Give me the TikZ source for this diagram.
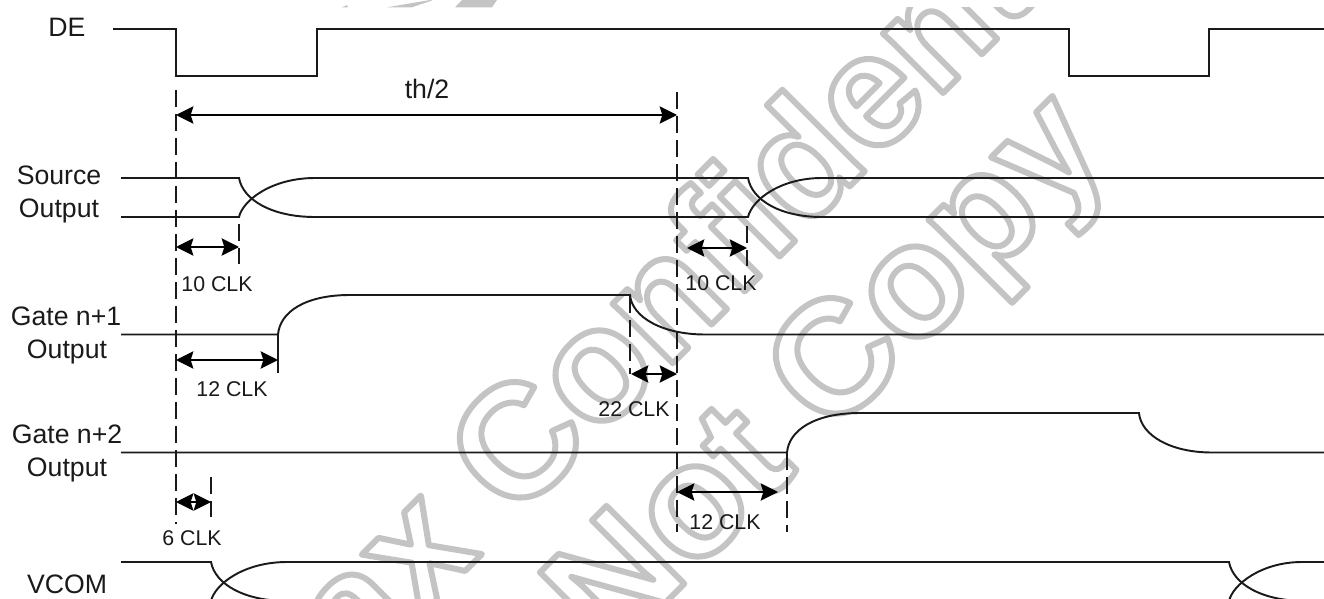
\documentclass[tikz,border=0pt]{standalone}
\usepackage{fontspec}
\setmainfont{Liberation Sans}
\usetikzlibrary{arrows.meta}
\definecolor{ink}{HTML}{1A1A1A}
\definecolor{wmgrey}{HTML}{C4C4C4}
\newcommand{\outl}[1]{\special{pdf:code q 1 Tr 4.5 w 1 j 0.77 G}#1\special{pdf:code Q}}
\tikzset{
  sig/.style={draw=ink,line width=1.45pt,line join=miter},
  guide/.style={draw=ink,line width=1.5pt,dash pattern=on 12.5pt off 5.5pt},
  dim/.style={draw=black,line width=1.5pt,{Stealth[length=13pt,width=13pt,inset=2pt]}-{Stealth[length=13pt,width=13pt,inset=2pt]}},
  lab/.style={font=\fontsize{20}{20}\selectfont,text=ink,inner sep=0pt,anchor=base},
  clk/.style={font=\fontsize{16}{16}\selectfont,text=ink,inner sep=0pt,anchor=base},
  wmark/.style={font=\fontsize{120}{120}\bfseries\selectfont,inner sep=0pt,rotate=45,anchor=base west}
}
\begin{document}
\begin{tikzpicture}[x=0.75pt,y=-0.75pt]
\useasboundingbox (0,0) rectangle (1324,599);
\begin{scope}
\clip (0,8) rectangle (1324,599);
\node[wmark] (wm1) at (143,893) {\outl{Himax Confidential}};
\node[wmark] (wm2) at (610,658) {\outl{Not Copy}};
\end{scope}
\fill[wmgrey] (342,7.3) -- (347,5) -- (348,7.3) -- cycle;
\fill[wmgrey] (387,7.3) -- (430,0) -- (432,0.5) -- (412,7.3) -- cycle;
\fill[wmgrey] (455,7.3) -- (462,0) -- (497,0) -- (492,7.3) -- cycle;
% waveforms
\coordinate (de0) at (113,29); \coordinate (de1) at (1324,29);
\draw[sig] (de0) -- (176,29) -- (176,76) -- (317,76) -- (317,29) -- (1069,29) -- (1069,76) -- (1209,76) -- (1209,29) -- (de1);
% Source
\coordinate (s0) at (121,178); \coordinate (s1) at (121,217);
\coordinate (s2) at (1324,178); \coordinate (s3) at (1324,217);
\draw[sig] (s0) -- (239,178) .. controls (243,200) and (272,217) .. (315,217) -- (748,217) .. controls (752,200) and (780,178) .. (822,178) -- (s2);
\draw[sig] (s1) -- (239,217) .. controls (243,200) and (272,178) .. (315,178) -- (748,178) .. controls (752,200) and (780,217) .. (822,217) -- (s3);
% Gate n+1
\coordinate (g0) at (121,334.5); \coordinate (g1) at (1324,334.5);
\draw[sig] (g0) -- (278,334.5) .. controls (280,312) and (305,295) .. (350,295) -- (630,295) .. controls (632,317) and (662,334.5) .. (705,334.5) -- (g1);
% Gate n+2
\coordinate (h0) at (121,452.5); \coordinate (h1) at (1324,452.5);
\draw[sig] (h0) -- (787,452.5) .. controls (789,430) and (815,413) .. (860,413) -- (1139,413) .. controls (1141,435) and (1170,452.5) .. (1212,452.5) -- (h1);
% VCOM
\coordinate (v0) at (121,562); \coordinate (v1) at (1324,562);
\coordinate (v2) at (211,601); \coordinate (v3) at (1229,601);
\draw[sig] (v0) -- (211,562) .. controls (215,584) and (244,601) .. (287,601) -- (1229,601);
\draw[sig] (v2) .. controls (215,584) and (244,562) .. (287,562) -- (1229,562) .. controls (1233,584) and (1262,601) .. (1305,601);
\draw[sig] (v3) .. controls (1233,584) and (1262,562) .. (1302,562) -- (v1);
\draw[sig,line width=2pt] (v0) -- (134,562);
% guides
\coordinate (a0) at (176,90); \coordinate (a1) at (176,524);
\coordinate (b0) at (677,92); \coordinate (b1) at (677,532);
\draw[guide] (a0) -- (a1);
\draw[guide] (b0) -- (b1);
\coordinate (c0) at (239,224); \coordinate (c1) at (239,264);
\coordinate (d0) at (747,226); \coordinate (d1) at (747,266);
\coordinate (e0) at (278,335); \coordinate (e1) at (278,373);
\coordinate (f0) at (630,296); \coordinate (f1) at (630,374);
\coordinate (i0) at (787,453); \coordinate (i1) at (787,532);
\coordinate (j0) at (211,477); \coordinate (j1) at (211,517);
\draw[guide] (c0) -- (c1);
\draw[guide] (d0) -- (d1);
\draw[guide,dash pattern=on 40pt off 0pt] (e0) -- (e1);
\draw[guide] (f0) -- (f1);
\draw[guide] (i0) -- (i1);
\draw[guide] (j0) -- (j1);
% dimension arrows
\coordinate (ar1) at (176,115); \coordinate (ar2) at (677,115);
\coordinate (ar3) at (176,247); \coordinate (ar4) at (239,247);
\coordinate (ar5) at (687,248); \coordinate (ar6) at (747,248);
\coordinate (ar7) at (176,360); \coordinate (ar8) at (278,360);
\coordinate (ar9) at (631,374); \coordinate (ar10) at (677,374);
\coordinate (ar11) at (677,492); \coordinate (ar12) at (778,492);
\coordinate (ar13) at (176,502); \coordinate (ar14) at (211,502);
\draw[dim] (ar1) -- (ar2);
\draw[dim] (ar3) -- (ar4);
\draw[dim] (ar5) -- (ar6);
\draw[dim] (ar7) -- (ar8);
\draw[dim] (ar9) -- (ar10);
\draw[dim] (ar11) -- (ar12);
\draw[dim] (ar13) -- (ar14);
% labels
\node[lab] (tde) at (67,37) {DE};
\node[lab] (ts1) at (59,185) {Source};
\node[lab] (ts2) at (59,217) {Output};
\node[lab] (tg1) at (66,325) {Gate n+1};
\node[lab] (tg2) at (67,358) {Output};
\node[lab] (th1) at (67,443) {Gate n+2};
\node[lab] (th2) at (67,476) {Output};
\node[lab] (tv) at (67,593) {VCOM};
\node[lab] (tth) at (427,99) {th/2};
\node[clk] (k1) at (217,291) {10 CLK};
\node[clk] (k2) at (721,290) {10 CLK};
\node[clk] (k3) at (232,396) {12 CLK};
\node[clk] (k4) at (634,416) {22 CLK};
\node[clk] (k5) at (725,529) {12 CLK};
\node[clk] (k6) at (192,545) {6 CLK};
\end{tikzpicture}
\end{document}
